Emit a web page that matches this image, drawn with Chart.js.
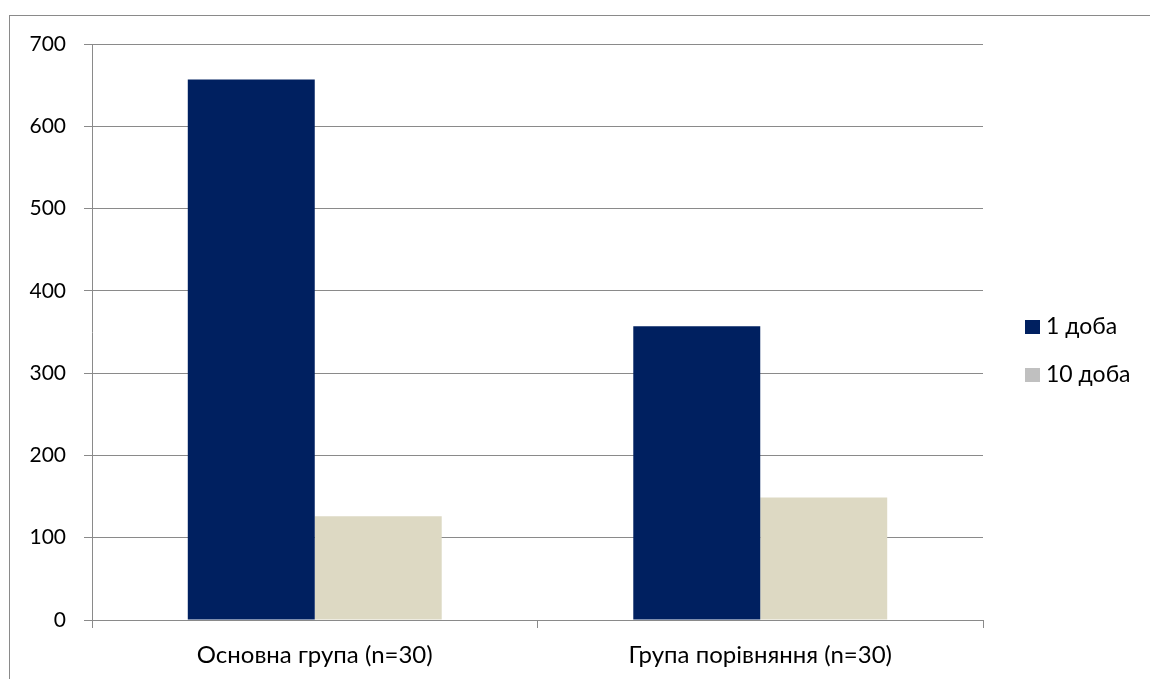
<!DOCTYPE html>
<html>
<head>
<meta charset="utf-8">
<script src="https://cdn.jsdelivr.net/npm/chart.js@4.4.0/dist/chart.umd.min.js"></script>
<style>
    body { margin: 0; background: #fff; overflow: hidden; }
    #frame {
        position: absolute;
        left: 9px;
        top: 15px;
        width: 1145px;
        height: 700px;
        border: 1px solid #8a8a8a;
    }
    #chart { position: absolute; left: 0; top: 0; }
</style>
</head>
<body>
<div id="frame"></div>
<canvas id="chart" width="1150" height="679"></canvas>
<script>
// Дані діаграми
const categories = ["Основна група (n=30)", "Група порівняння (n=30)"];
const day1 = [657, 357];
const day10 = [126, 149];
const seriesLabels = ["1 доба", "10 доба"];
const yTicks = [0, 100, 200, 300, 400, 500, 600, 700];

const navy = '#002060';
const beige = '#ddd9c3';
const legendColors = [navy, '#c0c0c0'];
const gridColor = '#8a8a8a';

// Легенда праворуч від області графіка
const sideLegend = {
    id: 'sideLegend',
    afterDraw(chart) {
        const { ctx, chartArea } = chart;
        const x = chartArea.right + 42;
        const midY = (chartArea.top + chartArea.bottom) / 2;
        ctx.save();
        ctx.font = '23px Lato';
        ctx.textBaseline = 'middle';
        ctx.textAlign = 'left';
        seriesLabels.forEach((label, i) => {
            const y = midY - 5 + i * 48;
            ctx.fillStyle = legendColors[i];
            ctx.fillRect(x, y - 7, 15, 14);
            ctx.fillStyle = '#000';
            ctx.fillText(label, x + 21, y);
        });
        ctx.restore();
    }
};

const chart = new Chart(document.getElementById('chart'), {
    type: 'bar',
    data: {
        labels: categories,
        datasets: [
            {
                label: seriesLabels[0],
                data: day1,
                backgroundColor: navy,
                barPercentage: 1,
                categoryPercentage: 0.57
            },
            {
                label: seriesLabels[1],
                data: day10,
                backgroundColor: beige,
                barPercentage: 1,
                categoryPercentage: 0.57
            }
        ]
    },
    options: {
        responsive: false,
        animation: false,
        layout: {
            padding: { left: 0, top: 44, right: 167, bottom: 0 }
        },
        plugins: {
            legend: { display: false },
            tooltip: { enabled: false }
        },
        scales: {
            x: {
                grid: {
                    drawOnChartArea: false,
                    color: gridColor,
                    tickLength: 8
                },
                border: { color: gridColor },
                ticks: {
                    color: '#000',
                    padding: 13,
                    font: { family: 'Lato', size: 24 }
                },
                afterFit: scale => { scale.height = 59; }
            },
            y: {
                min: 0,
                max: 700,
                afterBuildTicks: scale => {
                    scale.ticks = yTicks.map(v => ({ value: v }));
                },
                grid: {
                    color: gridColor,
                    tickLength: 8
                },
                border: { color: gridColor },
                ticks: {
                    color: '#000',
                    padding: 18,
                    font: { family: 'Lato', size: 21 }
                },
                afterFit: scale => { scale.width = 92; }
            }
        }
    },
    plugins: [sideLegend]
});
</script>
</body>
</html>
